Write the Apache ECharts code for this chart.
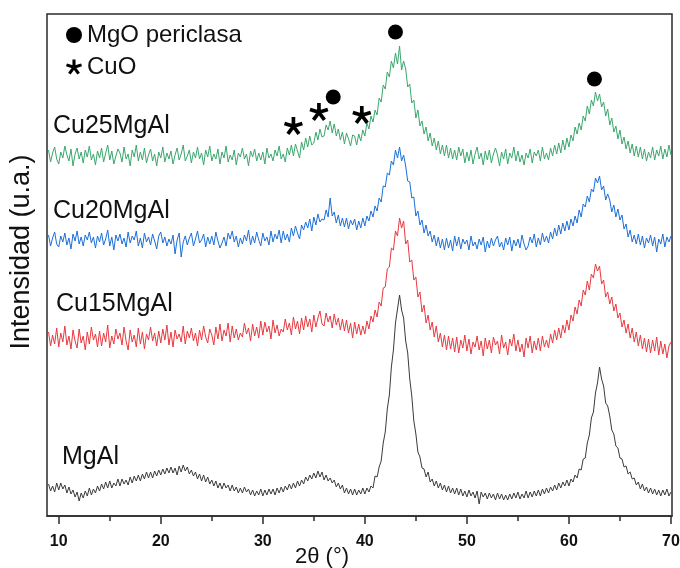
<!DOCTYPE html>
<html>
<head>
<meta charset="utf-8">
<script src="https://cdn.jsdelivr.net/npm/echarts@6/dist/echarts.min.js"></script>
<style>
  html, body { margin: 0; padding: 0; background: #fff; }
  #chart { width: 680px; height: 568px; }
</style>
</head>
<body>
<div id="chart"></div>
<script>
// XRD scan grid (2θ, degrees)
const scanStart = 9.0;
const scanStep = 0.2;

const tickValues = [10, 20, 30, 40, 50, 60, 70];
const minorTickValues = [15, 25, 35, 45, 55, 65];

const sampleNames = ['MgAl', 'Cu15MgAl', 'Cu20MgAl', 'Cu25MgAl'];

// Stacked intensities (a.u.), one value per scan step, 9.0° … 70.0°
const mgAl = [
  32,25,30,24,33, 26,33,27,31,23, 29,22,26,19,24, 15,23,18,25,20, 28,21,27,23,30,
  25,32,27,34,28, 35,28,33,30,37, 30,37,32,36,31, 39,33,40,35,41, 35,42,37,44,38,
  44,38,45,40,46, 41,47,42,48,43, 49,43,48,41,50, 44,51,45,49,42, 46,40,44,37,42,
  35,41,34,39,32, 36,30,35,28,33, 27,33,28,31,25, 31,25,29,23,28, 23,29,24,27,21,
  26,20,25,21,27, 20,26,21,27,22, 27,21,28,23,29, 24,30,26,32,27, 33,28,35,30,36,
  32,39,35,41,37, 43,38,45,39,44, 36,41,35,38,33, 36,29,33,27,31, 23,28,22,27,21,
  27,21,26,22,28, 22,28,24,30,28, 40,39,49,55,73, 84,107,121,149,166, 193,207,221,206,198,
  175,163,137,120,95, 82,64,59,48,47, 39,44,34,37,30, 35,28,33,26,31, 24,30,23,28,22,
  28,21,27,20,25, 19,26,20,24,18, 25,12,24,19,23, 17,23,18,22,16, 23,17,22,16,21,
  16,22,17,23,18, 24,17,22,18,25, 18,24,19,25,20, 26,20,27,22,28, 23,29,25,31,26,
  33,28,34,30,36, 30,37,34,41,38, 47,46,57,58,73, 81,98,104,123,133, 149,137,130,113,110,
  100,86,82,70,68, 58,57,49,50,42, 44,37,38,31,34, 27,32,25,29,23, 28,22,27,21,26,
  20,26,21,27,20, 24
];

const cu15MgAl = [
  184,170,181,172,188, 169,183,174,190,171, 180,167,186,175,168, 187,173,180,166,184, 172,189,176,182,169,
  185,170,183,174,191, 168,180,172,187,177, 183,171,189,175,166, 186,174,181,169,188, 172,184,167,182,176,
  189,175,183,170,185, 173,187,176,191,171, 184,169,186,177,182, 174,190,172,185,178, 188,175,183,170,186,
  176,190,179,173,187, 181,171,189,177,192, 175,186,180,193,174, 190,178,187,176,183, 179,193,182,188,175,
  192,180,189,178,195, 181,194,184,190,177, 196,183,191,180,187, 184,197,186,193,181, 199,187,195,182,198,
  186,200,189,197,184, 201,189,198,205,192, 190,203,194,200,188, 202,191,198,186,197, 185,196,183,193,178,
  194,182,192,181,190, 182,195,187,200,194, 206,199,214,210,228, 229,247,249,268,266, 285,280,298,288,295,
  272,276,254,256,236, 239,219,224,204,211, 193,201,186,194,179, 190,174,183,169,181, 166,180,167,178,164,
  179,163,176,168,181, 165,177,162,174,169, 180,166,175,160,178, 167,176,163,179,171, 175,162,181,168,174,
  161,177,170,182,165, 176,164,172,159,178, 168,180,163,175,166, 178,165,180,169,176, 168,182,173,186,176,
  188,178,191,183,196, 186,201,195,209,202, 216,210,226,221,235, 226,242,238,252,245, 250,232,236,219,224,
  212,219,205,212,198, 203,189,196,183,192, 178,188,174,184,170, 181,167,178,164,177, 163,176,165,179,161,
  175,162,172,158,170, 174
];

const cu20MgAl = [
  281,270,278,284,272, 269,280,274,283,271, 278,267,282,275,285, 272,279,270,281,276, 284,273,279,268,280,
  274,283,271,277,286, 270,279,266,281,275, 282,272,278,269,284, 273,280,276,285,270, 278,268,283,274,279,
  271,282,275,267,280, 284,273,279,270,277, 272,281,262,276,283, 259,274,280,271,278, 283,270,277,285,273,
  276,282,269,279,272, 280,271,284,275,268, 273,279,270,283,277, 285,274,280,269,278, 272,281,275,286,271,
  280,273,284,276,270, 283,275,279,271,285, 274,282,277,286,273, 285,276,282,274,288, 280,290,283,277,291,
  286,294,288,297,285, 299,291,302,294,297, 296,306,299,318,300, 304,293,301,290,298, 289,298,287,296,291,
  297,286,295,288,298, 290,300,295,305,299, 310,305,318,314,330, 329,343,341,355,351, 366,358,369,355,361,
  350,335,334,318,319, 300,305,291,296,283, 291,280,285,274,281, 270,279,268,277,266, 278,268,276,265,280,
  270,279,267,277,272, 276,266,280,270,274, 267,277,271,279,264, 275,268,278,270,276, 280,269,274,266,278,
  271,279,265,276,270, 277,268,281,272,266, 270,279,273,282,269, 278,271,283,274,280, 273,284,277,288,280,
  291,282,293,285,295, 286,297,290,300,293, 306,299,312,309,320, 314,327,324,338,333, 340,326,330,316,322,
  316,304,311,299,307, 296,301,287,292,279, 286,274,281,272,282, 271,280,268,278,273, 281,270,279,264,277,
  272,282,269,279,274, 280
];

const cu25MgAl = [
  366,354,363,369,357, 352,364,358,370,361, 355,367,350,362,368, 357,364,353,366,359, 370,356,362,351,365,
  358,368,354,363,371, 356,365,352,360,367, 363,354,369,357,362, 350,366,359,371,355, 364,356,368,353,361,
  367,355,362,350,364, 358,369,354,363,357, 365,352,361,368,356, 362,371,355,360,366, 353,364,358,369,357,
  363,351,366,359,370, 355,362,357,367,352, 364,358,370,354,361, 356,366,351,363,359, 368,357,362,350,365,
  359,367,355,363,356, 364,352,368,358,362, 355,366,360,370,357, 362,354,368,361,371, 360,372,365,358,374,
  366,378,369,380,371, 373,384,376,387,379, 380,391,386,395,383, 392,380,387,376,384, 372,383,377,370,381,
  380,371,382,375,386, 380,393,387,400,394, 406,401,418,414,431, 427,444,439,455,448, 463,452,470,446,455,
  447,429,432,413,416, 398,406,390,395,382, 389,375,383,370,378, 366,375,362,371,360, 371,358,368,357,366,
  356,369,360,367,353, 364,355,366,352,362, 369,357,363,351,365, 356,366,353,362,368, 361,350,364,357,367,
  352,363,358,369,355, 365,354,361,351,363, 358,367,353,364,360, 366,355,369,357,363, 356,368,360,371,362,
  373,363,376,366,378, 369,381,375,389,382, 393,386,400,395,410, 402,416,410,424,415, 422,409,414,400,407,
  391,398,384,390,377, 386,372,379,367,375, 363,372,360,370,359, 369,357,367,355,364, 358,369,356,366,360,
  370,357,367,359,371, 361
];

// Reflection markers (2θ, a.u.)
const mgoPeaks = [[43.0, 484], [62.5, 437], [36.9, 419]];
const cuoPeaks = [[33.0, 390], [35.5, 404], [39.7, 401]];

const seriesColors = ['#3b3b3b', '#e8393f', '#1c6fd8', '#3aa76d'];
const patterns = [mgAl, cu15MgAl, cu20MgAl, cu25MgAl];

const twoTheta = [];
for (let i = 0; i < mgAl.length; i++) {
  twoTheta.push(+(scanStart + i * scanStep).toFixed(1));
}

const FONT = '"Liberation Sans", Arial, Helvetica, sans-serif';
// five-armed asterisk glyph used for the CuO reflections
const asteriskPath = 'path://M59,50L59,4L41,4L41,50Z M52.78,58.56L96.53,44.35L90.97,27.23L47.22,41.44Z M42.72,55.29L69.76,92.50L84.32,81.92L57.28,44.71Z M42.72,44.71L15.68,81.92L30.24,92.50L57.28,55.29Z M52.78,41.44L9.03,27.23L3.47,44.35L47.22,58.56Z';

const chart = echarts.init(document.getElementById('chart'), null, { renderer: 'canvas' });

const lineSeries = patterns.map((vals, k) => ({
  name: sampleNames[k],
  type: 'line',
  data: vals.map((v, i) => [twoTheta[i], v]),
  showSymbol: false,
  symbol: 'none',
  lineStyle: { color: seriesColors[k], width: 1 },
  itemStyle: { color: seriesColors[k] },
  z: 2 + k,
  silent: true
}));

const labelPos = [
  { name: 'MgAl', x: 62, y: 459 },
  { name: 'Cu15MgAl', x: 56, y: 306 },
  { name: 'Cu20MgAl', x: 53, y: 213 },
  { name: 'Cu25MgAl', x: 53, y: 128 }
];

chart.setOption({
  animation: false,
  backgroundColor: '#ffffff',
  grid: {
    left: 47, right: 8, top: 14, bottom: 52,
    containLabel: false,
    outerBoundsMode: 'none',
    show: true,
    borderColor: '#2b2b2b',
    borderWidth: 1.5,
    backgroundColor: 'transparent'
  },
  legend: {
    orient: 'vertical',
    left: 66, top: 23,
    itemWidth: 16, itemHeight: 16,
    itemGap: 8,
    padding: 0,
    selectedMode: false,
    data: ['MgO periclasa', 'CuO'],
    textStyle: { fontSize: 24, color: '#111', fontFamily: FONT }
  },
  xAxis: [
    {
      type: 'value',
      min: 8.85, max: 70.1,
      name: '2θ (°)',
      nameLocation: 'middle',
      nameGap: 30,
      nameMoveOverlap: false,
      nameTextStyle: { fontSize: 22, color: '#111', fontFamily: FONT, padding: [0, 75, 0, 0] },
      axisLine: { show: true, lineStyle: { color: '#2b2b2b', width: 1.5 } },
      axisTick: { show: true, length: 8, customValues: tickValues, lineStyle: { color: '#2b2b2b', width: 1.5 } },
      axisLabel: { customValues: tickValues, fontSize: 16, fontWeight: 'bold', color: '#111', fontFamily: FONT, margin: 18 },
      splitLine: { show: false }
    },
    {
      type: 'value',
      min: 8.85, max: 70.1,
      position: 'bottom',
      axisLine: { show: false },
      axisTick: { show: true, length: 5, customValues: minorTickValues, lineStyle: { color: '#2b2b2b', width: 1.5 } },
      axisLabel: { show: false },
      splitLine: { show: false }
    }
  ],
  yAxis: {
    type: 'value',
    min: 0, max: 502,
    name: 'Intensidad (u.a.)',
    nameLocation: 'middle',
    nameRotate: 90,
    nameGap: 12,
    nameMoveOverlap: false,
    nameTextStyle: { fontSize: 27, color: '#111', fontFamily: FONT, padding: [0, 0, 0, 26] },
    axisLine: { show: false },
    axisTick: { show: false },
    axisLabel: { show: false },
    splitLine: { show: false }
  },
  graphic: labelPos.map(p => ({
    type: 'text',
    left: p.x,
    top: p.y - 14,
    silent: true,
    style: { text: p.name, fill: '#111', font: '25px ' + FONT }
  })),
  series: lineSeries.concat([
    {
      name: 'MgO periclasa',
      type: 'scatter',
      data: mgoPeaks,
      symbol: 'circle',
      symbolSize: 15,
      itemStyle: { color: '#000', opacity: 1 },
      z: 10,
      silent: true
    },
    {
      name: 'CuO',
      type: 'scatter',
      data: cuoPeaks,
      symbol: asteriskPath,
      symbolKeepAspect: true,
      symbolSize: 19,
      itemStyle: { color: '#000', opacity: 1 },
      z: 10,
      silent: true
    }
  ])
});
</script>
</body>
</html>
